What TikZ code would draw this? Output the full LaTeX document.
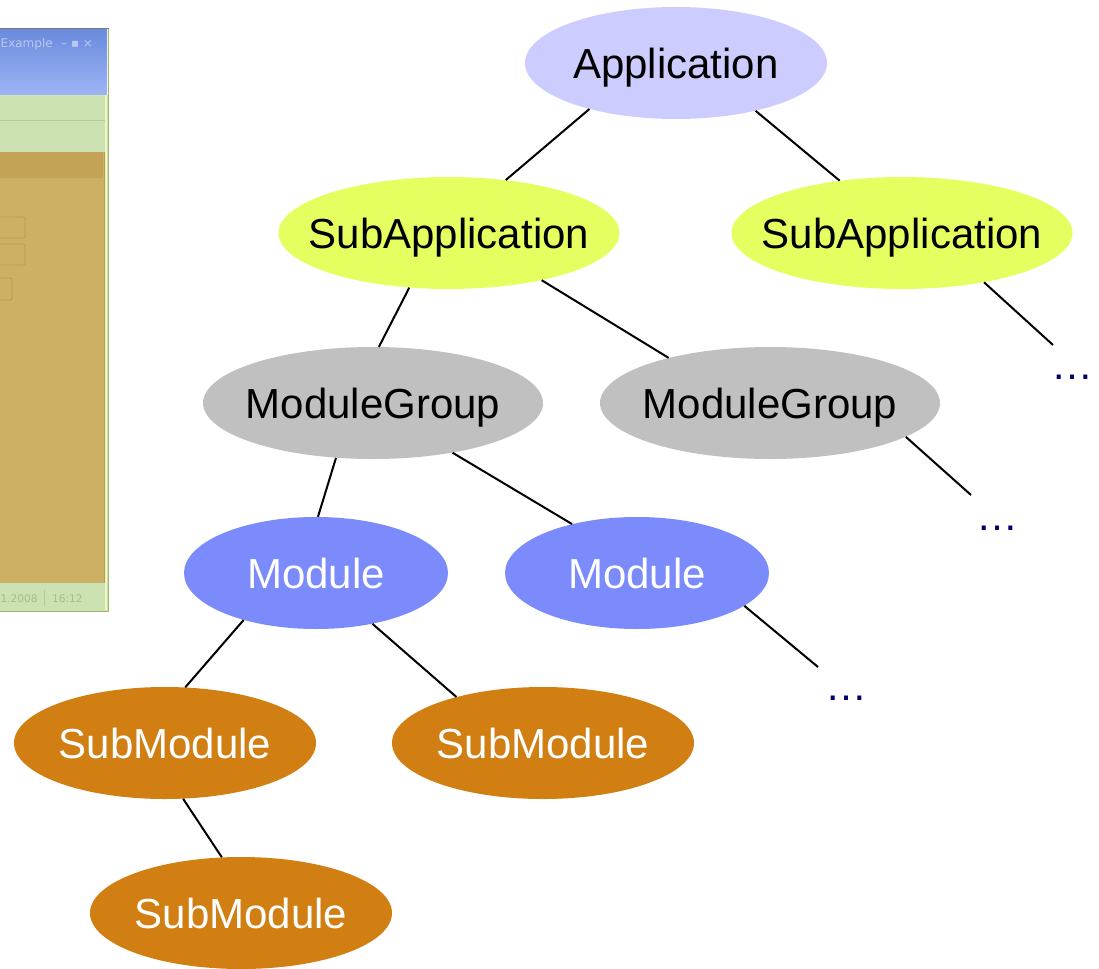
\documentclass[tikz,border=0pt]{standalone}
\usepackage{fontspec}
\setmainfont{Liberation Sans}
\newfontfamily\winfont{DejaVu Sans}
\usetikzlibrary{shapes.geometric}
\definecolor{appc}{HTML}{CCCCFF}
\definecolor{subappc}{HTML}{E5FF60}
\definecolor{mgc}{HTML}{C0C0C0}
\definecolor{modc}{HTML}{7B8BFB}
\definecolor{smc}{HTML}{D17F12}
\definecolor{dotc}{HTML}{000066}
\definecolor{wingreen}{HTML}{CCE2B3}
\definecolor{wingreenln}{HTML}{B4CB9A}
\definecolor{wingold}{HTML}{CDB064}
\definecolor{wingoldhd}{HTML}{C3A456}
\definecolor{wingoldln}{HTML}{B89A4E}
\definecolor{wintitA}{HTML}{6A8ADC}
\definecolor{wintitB}{HTML}{9DB5F5}
\definecolor{wintittxt}{HTML}{B9C9F2}
\definecolor{wintxt}{HTML}{A9BA92}
\definecolor{winedge}{HTML}{EEF5C2}
\definecolor{winframe}{HTML}{9FB86E}
\definecolor{wintop}{HTML}{7A7A7A}
\newcommand{\eltext}[1]{\makebox[0pt]{\smash{\raisebox{-0.358em}{#1}}}}
\begin{document}
\begin{tikzpicture}[x=1pt,y=-1pt,
  el/.style={ellipse,inner sep=0pt,minimum height=112pt,font=\fontsize{42}{50}\selectfont},
  appnode/.style={el,fill=appc,minimum width=302pt,text=black},
  subappnode/.style={el,fill=subappc,minimum width=341pt,text=black},
  mgnode/.style={el,fill=mgc,minimum width=340pt,text=black},
  modnode/.style={el,fill=modc,minimum width=264pt,text=white},
  smnode/.style={el,fill=smc,minimum width=302pt,text=white},
  dotsnode/.style={anchor=base,text=dotc,inner sep=0pt,font=\fontsize{42}{50}\selectfont},
  conn/.style={line width=2pt,black},
  wintext/.style={inner sep=0pt,font=\winfont\fontsize{10.5}{13}\selectfont}]
\useasboundingbox (0,0) rectangle (1099,968);
% ---- window screenshot (left edge) ----
\fill[wingreen] (0,95) rectangle (109,612);
\shade[top color=wintitA,bottom color=wintitB] (0,29) rectangle (107,95);
\draw[wingreenln,line width=1pt] (0,121) -- (107,121);
\fill[wingold] (0,152) rectangle (104,583);
\fill[wingoldhd] (0,152) rectangle (103,178);
\draw[wingoldln,line width=0.8pt] (104,152) -- (104,583);
\draw[wingoldln,line width=0.8pt,rounded corners=2pt] (-1,217) -- (25,217) -- (25,238) -- (-1,238);
\draw[wingoldln,line width=0.8pt,rounded corners=2pt] (-1,244) -- (25,244) -- (25,265) -- (-1,265);
\draw[wingoldln,line width=0.8pt,rounded corners=2pt] (-1,278) -- (12,278) -- (12,300) -- (-1,300);
\fill[winedge] (105,95) rectangle (107,610);
\draw[winframe,line width=1pt] (108,29) -- (108,611) -- (0,611);
\draw[wintop,line width=1pt] (0,28.5) -- (108.5,28.5);
\node[wintext,anchor=base west,text=wintittxt,font=\winfont\fontsize{12}{14}\selectfont] (wtitle) at (0.5,48) {Example};
\node[wintext,anchor=base west,text=wintittxt,font=\winfont\fontsize{12}{14}\selectfont] (wbtns) at (61,48) {– ▪ ×};
\draw[wingreenln,line width=1pt] (44,590) -- (44,606);
\node[wintext,anchor=base west,text=wintxt] (wdate) at (0.5,602) {1.2008};
\node[wintext,anchor=base west,text=wintxt] (wtime) at (52,602) {16:12};
% ---- tree ----
\node[appnode] (app) at (676,63) {\eltext{Application}};
\node[subappnode] (sa1) at (449,233) {\eltext{SubApplication}};
\node[subappnode] (sa2) at (902,233) {\eltext{SubApplication}};
\node[mgnode] (mg1) at (373,403) {\eltext{ModuleGroup}};
\node[mgnode] (mg2) at (770,403) {\eltext{ModuleGroup}};
\node[modnode] (m1) at (316,573) {\eltext{Module}};
\node[modnode] (m2) at (637,573) {\eltext{Module}};
\node[smnode] (sm1) at (165,743) {\eltext{SubModule}};
\node[smnode] (sm2) at (543,743) {\eltext{SubModule}};
\node[smnode] (sm3) at (241,913) {\eltext{SubModule}};
\node[dotsnode] (d1) at (1072,379) {…};
\node[dotsnode] (d2) at (997,530) {…};
\node[dotsnode] (d3) at (846,700) {…};
\coordinate (e1) at (1053,345);
\coordinate (e2) at (971,495);
\coordinate (e3) at (818,667);
\draw[conn] (app.208.7) -- (sa1.43.4);
\draw[conn] (app.329.9) -- (sa2.140.6);
\draw[conn] (sa1.234.2) -- (mg1.84.8);
\draw[conn] (sa1.333.2) -- (mg2.156.5);
\draw[conn] (sa2.329.8) -- (e1);
\draw[conn] (mg1.236.1) -- (m1.88);
\draw[conn] (mg1.328.9) -- (m2.143.3);
\draw[conn] (mg2.346) -- (e2);
\draw[conn] (m1.213.9) -- (sm1.70.9);
\draw[conn] (m1.318.7) -- (sm2.152.6);
\draw[conn] (m2.343.6) -- (e3);
\draw[conn] (sm1.288.4) -- (sm3.109.7);
\end{tikzpicture}
\end{document}
